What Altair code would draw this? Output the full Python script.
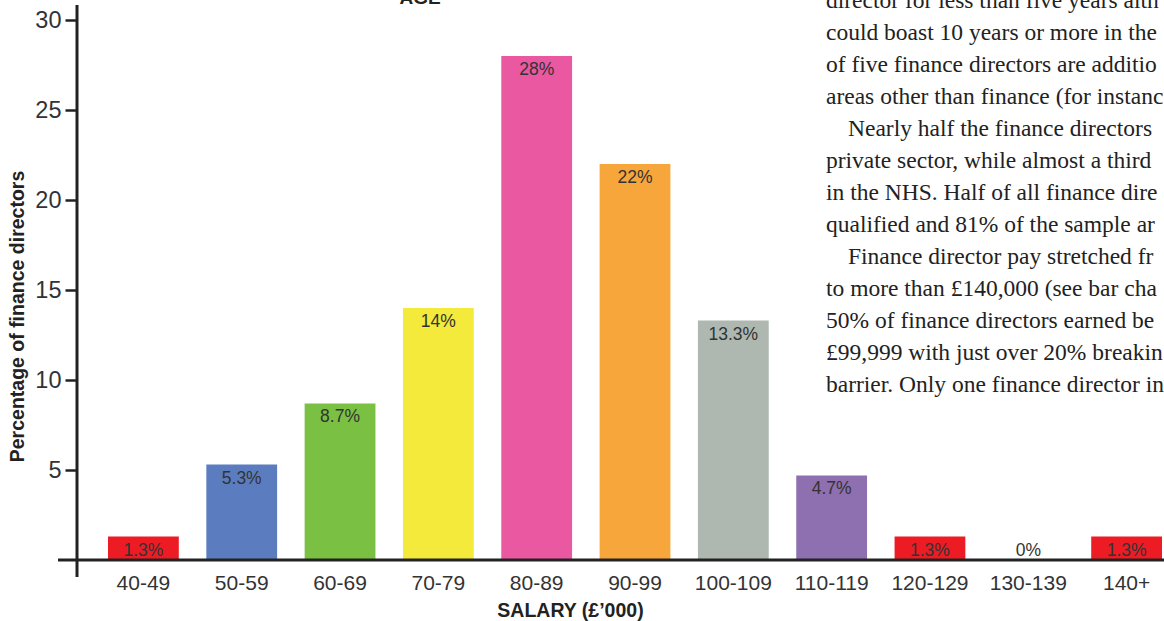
import altair as alt
import pandas as pd

categories = ["40-49", "50-59", "60-69", "70-79", "80-89", "90-99",
              "100-109", "110-119", "120-129", "130-139", "140+"]
values = [1.3, 5.3, 8.7, 14, 28, 22, 13.3, 4.7, 1.3, 0, 1.3]
labels = ["1.3%", "5.3%", "8.7%", "14%", "28%", "22%", "13.3%", "4.7%", "1.3%", "0%", "1.3%"]
colors = ["#ED1C24", "#5B7DBF", "#7AC143", "#F3EA3B", "#E958A1", "#F7A63C",
          "#AEB8B0", "#8E6FB0", "#ED1C24", "#FFFFFF", "#ED1C24"]

y_ticks = [5, 10, 15, 20, 25, 30]

para_lines = [
    "director for less than five years alth",
    "could boast 10 years or more in the",
    "of five finance directors are additio",
    "areas other than finance (for instanc",
    "Nearly half the finance directors",
    "private sector, while almost a third",
    "in the NHS. Half of all finance dire",
    "qualified and 81% of the sample ar",
    "Finance director pay stretched fr",
    "to more than \u00a3140,000 (see bar cha",
    "50% of finance directors earned be",
    "\u00a399,999 with just over 20% breakin",
    "barrier. Only one finance director in",
]
para_indent = [0, 0, 0, 0, 1, 0, 0, 0, 1, 0, 0, 0, 0]

df = pd.DataFrame({"salary": categories, "pct": values, "label": labels})
df_text = pd.DataFrame({
    "line": list(range(len(para_lines))),
    "indent": para_indent,
    "text": para_lines,
})

SANS = "Liberation Sans"
SERIF = "Liberation Serif"

x_enc = alt.X(
    "salary:N", sort=categories,
    scale=alt.Scale(paddingInner=0.28, paddingOuter=0.1577, align=1),
    axis=alt.Axis(
        title="SALARY (\u00a3\u2019000)", labelAngle=0, domain=False, ticks=False,
        labelFont=SANS, labelFontSize=21, labelColor="#333", labelPadding=12,
        titleFont=SANS, titleFontSize=19.5, titleFontWeight="bold", titleColor="#222",
        titleX=493, titleY=50, titleBaseline="middle", titleAlign="center",
    ),
)

y_enc = alt.Y(
    "pct:Q", scale=alt.Scale(domain=[0, 30], nice=False),
    axis=alt.Axis(
        values=y_ticks, domain=False, grid=False,
        tickSize=12, tickWidth=2.5, tickColor="#222",
        labelFont=SANS, labelFontSize=23.5, labelColor="#333", labelPadding=4,
        title="Percentage of finance directors",
        titleFont=SANS, titleFontSize=19.5, titleFontWeight="bold", titleColor="#222",
        titleX=-60, titleY=296, titleAngle=270, titleAlign="center",
        titleBaseline="middle",
    ),
)

base = alt.Chart(df)

bars = base.mark_bar().encode(
    x=x_enc,
    y=y_enc,
    color=alt.Color("salary:N", scale=alt.Scale(domain=categories, range=colors), legend=None),
)

bar_text = base.transform_calculate(ly="max(datum.pct, 1.3)").mark_text(
    baseline="top", dy=5, font=SANS, fontSize=17.5, color="#333"
).encode(
    x=alt.X("salary:N", sort=categories),
    y=alt.Y("ly:Q", axis=None),
    text="label:N",
)

baseline_rule = alt.Chart(pd.DataFrame({"z": [0]})).mark_rule(
    color="#222", strokeWidth=3
).encode(y=alt.Y("z:Q", axis=None), x=alt.value(-19), x2=alt.value(1100))

yaxis_rule = alt.Chart(pd.DataFrame({"z": [0]})).mark_rule(
    color="#222", strokeWidth=3
).encode(x=alt.value(0), y=alt.value(-15), y2=alt.value(557))

age = alt.Chart(pd.DataFrame({"t": ["AGE"]})).mark_text(
    font=SANS, fontSize=19, fontWeight="bold", color="#222",
    align="center", baseline="alphabetic"
).encode(text="t:N", x=alt.value(343), y=alt.value(-16))

main = alt.layer(
    bars, bar_text, baseline_rule, yaxis_rule, age
).resolve_axis(y="independent")

n_lines = len(para_lines)
para = alt.Chart(df_text).mark_text(
    font=SERIF, fontSize=23.5, color="#222", align="left", baseline="alphabetic"
).encode(
    x=alt.X("indent:Q", scale=alt.Scale(domain=[0, 1], range=[749, 771]), axis=None),
    y=alt.Y("line:Q", scale=alt.Scale(domain=[0, n_lines - 1],
                                      range=[-12, -12 + 32 * (n_lines - 1)]), axis=None),
    text="text:N",
)

chart = alt.layer(main, para).resolve_scale(
    x="independent", y="independent"
).properties(
    width=1085, height=540,
    padding={"left": 77, "top": 20, "right": 2, "bottom": 61},
    autosize=alt.AutoSizeParams(type="none"),
).configure_view(stroke=None)

chart.save("out.html", embed_options={"renderer": "svg", "actions": False})
